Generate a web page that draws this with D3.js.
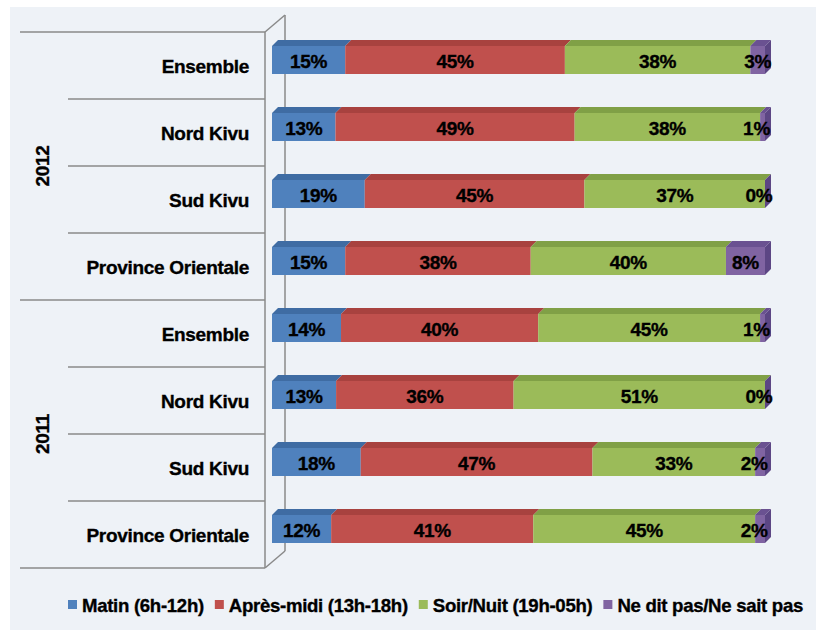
<!DOCTYPE html>
<html>
<head>
<meta charset="utf-8">
<script src="https://cdn.jsdelivr.net/npm/d3@7"></script>
<style>
  body { margin: 0; background: #fff; }
  text { font-family: "Liberation Sans", Arial, sans-serif; font-weight: bold; letter-spacing: -0.3px;
         stroke: #000; stroke-width: 0.35px; }
</style>
</head>
<body>
<script>
// data
var years = ["2012", "2011"];
var regions = ["Ensemble", "Nord Kivu", "Sud Kivu", "Province Orientale"];
var seriesNames = ["Matin (6h-12h)", "Après-midi (13h-18h)", "Soir/Nuit (19h-05h)", "Ne dit pas/Ne sait pas"];
var matin     = [15, 13, 19, 15, 14, 13, 18, 12];
var apresMidi = [45, 49, 45, 38, 40, 36, 47, 41];
var soirNuit  = [38, 38, 37, 40, 45, 51, 33, 45];
var neSaitPas = [3, 1, 0, 8, 1, 0, 2, 2];

var colors = ["#4f81bd", "#c0504d", "#9bbb59", "#8064a2"];
var topColors = ["#3f6ca3", "#a8423f", "#80a046", "#6a5191"];
var sideColor = "#5c4684";

var W = 816, H = 630;
var svg = d3.select("body").append("svg").attr("width", W).attr("height", H);

svg.append("rect").attr("x", 10).attr("y", 7).attr("width", W - 10).attr("height", H - 7)
   .attr("fill", "#eef2f7");

// one row per year x region
var rows = [];
years.forEach(function(yr, yi) {
  regions.forEach(function(rg, ri) {
    var k = yi * regions.length + ri;
    rows.push({ key: yr + "|" + rg, year: yr, region: rg,
                vals: [matin[k], apresMidi[k], soirNuit[k], neSaitPas[k]] });
  });
});

var y = d3.scaleBand().domain(rows.map(function(d) { return d.key; })).range([32, 568]);
var x = d3.scaleLinear().domain([0, 1]).range([272, 765]);

var wallX = 265, depthX = 20, depthY = 17;
var barTop = 14, barH = 28, bd = 6;

// wall / axis
var axis = svg.append("g").attr("stroke", "#8a8a8a").attr("stroke-width", 1.5).attr("fill", "none");
axis.append("line").attr("x1", wallX).attr("y1", y.range()[0]).attr("x2", wallX).attr("y2", y.range()[1]);
axis.append("line").attr("x1", wallX + depthX).attr("y1", y.range()[0] - depthY)
    .attr("x2", wallX + depthX).attr("y2", y.range()[1] - depthY);
axis.append("line").attr("x1", wallX).attr("y1", y.range()[0])
    .attr("x2", wallX + depthX).attr("y2", y.range()[0] - depthY);
axis.append("line").attr("x1", wallX).attr("y1", y.range()[1])
    .attr("x2", wallX + depthX).attr("y2", y.range()[1] - depthY);

// tick lines: long at year boundaries, short between regions
var bounds = rows.map(function(d, i) { return { y: y(d.key), long: i % regions.length === 0 }; });
bounds.push({ y: y.range()[1], long: true });
axis.selectAll("line.tick").data(bounds).enter().append("line")
    .attr("class", "tick")
    .attr("x1", function(d) { return d.long ? 20 : 68; })
    .attr("x2", wallX)
    .attr("y1", function(d) { return d.y; })
    .attr("y2", function(d) { return d.y; });

// region labels
svg.selectAll("text.cat").data(rows).enter().append("text")
   .attr("class", "cat")
   .attr("x", 249)
   .attr("y", function(d) { return y(d.key) + y.bandwidth() / 2 + 7; })
   .attr("text-anchor", "end")
   .attr("font-size", 19)
   .text(function(d) { return d.region; });

// year labels
years.forEach(function(yr, yi) {
  var y0 = y(rows[yi * regions.length].key);
  var y1 = y(rows[yi * regions.length + regions.length - 1].key) + y.bandwidth();
  svg.append("text")
     .attr("transform", "translate(49," + ((y0 + y1) / 2) + ") rotate(-90)")
     .attr("text-anchor", "middle")
     .attr("font-size", 19)
     .text(yr);
});

// bars
rows.forEach(function(row) {
  var total = d3.sum(row.vals);
  var g = svg.append("g");
  var y0 = y(row.key) + barTop;
  var acc = 0;
  var segs = row.vals.map(function(v, i) {
    var s = { i: i, v: v, a: acc / total, b: (acc + v) / total };
    acc += v;
    return s;
  });
  segs.forEach(function(s) {
    var x0 = x(s.a), x1 = x(s.b);
    g.append("path")
     .attr("d", "M" + x0 + "," + y0 + "L" + x1 + "," + y0 + "L" + (x1 + bd) + "," + (y0 - bd) +
                "L" + (x0 + bd) + "," + (y0 - bd) + "Z")
     .attr("fill", topColors[s.i]);
    g.append("rect").attr("x", x0).attr("y", y0).attr("width", x1 - x0).attr("height", barH)
     .attr("fill", colors[s.i]);
  });
  var xe = x(1);
  g.append("path")
   .attr("d", "M" + xe + "," + y0 + "L" + (xe + bd) + "," + (y0 - bd) + "L" + (xe + bd) + "," + (y0 + barH - bd) +
              "L" + xe + "," + (y0 + barH) + "Z")
   .attr("fill", sideColor);
  g.selectAll("text").data(segs).enter().append("text")
   .attr("x", function(s) { return (x(s.a) + x(s.b)) / 2 + (s.v < 3 ? -6 : 0); })
   .attr("y", y0 + barH / 2 + 8)
   .attr("text-anchor", "middle")
   .attr("font-size", 19)
   .attr("fill", "#000")
   .text(function(s) { return s.v + "%"; });
});

// legend
var lg = svg.append("g");
var cx = 68;
seriesNames.forEach(function(name, i) {
  lg.append("rect").attr("x", cx).attr("y", 600).attr("width", 9).attr("height", 9).attr("fill", colors[i]);
  var t = lg.append("text").attr("x", cx + 14).attr("y", 612).attr("font-size", 18.6).text(name);
  cx += 14 + t.node().getComputedTextLength() + 11;
});
</script>
</body>
</html>
